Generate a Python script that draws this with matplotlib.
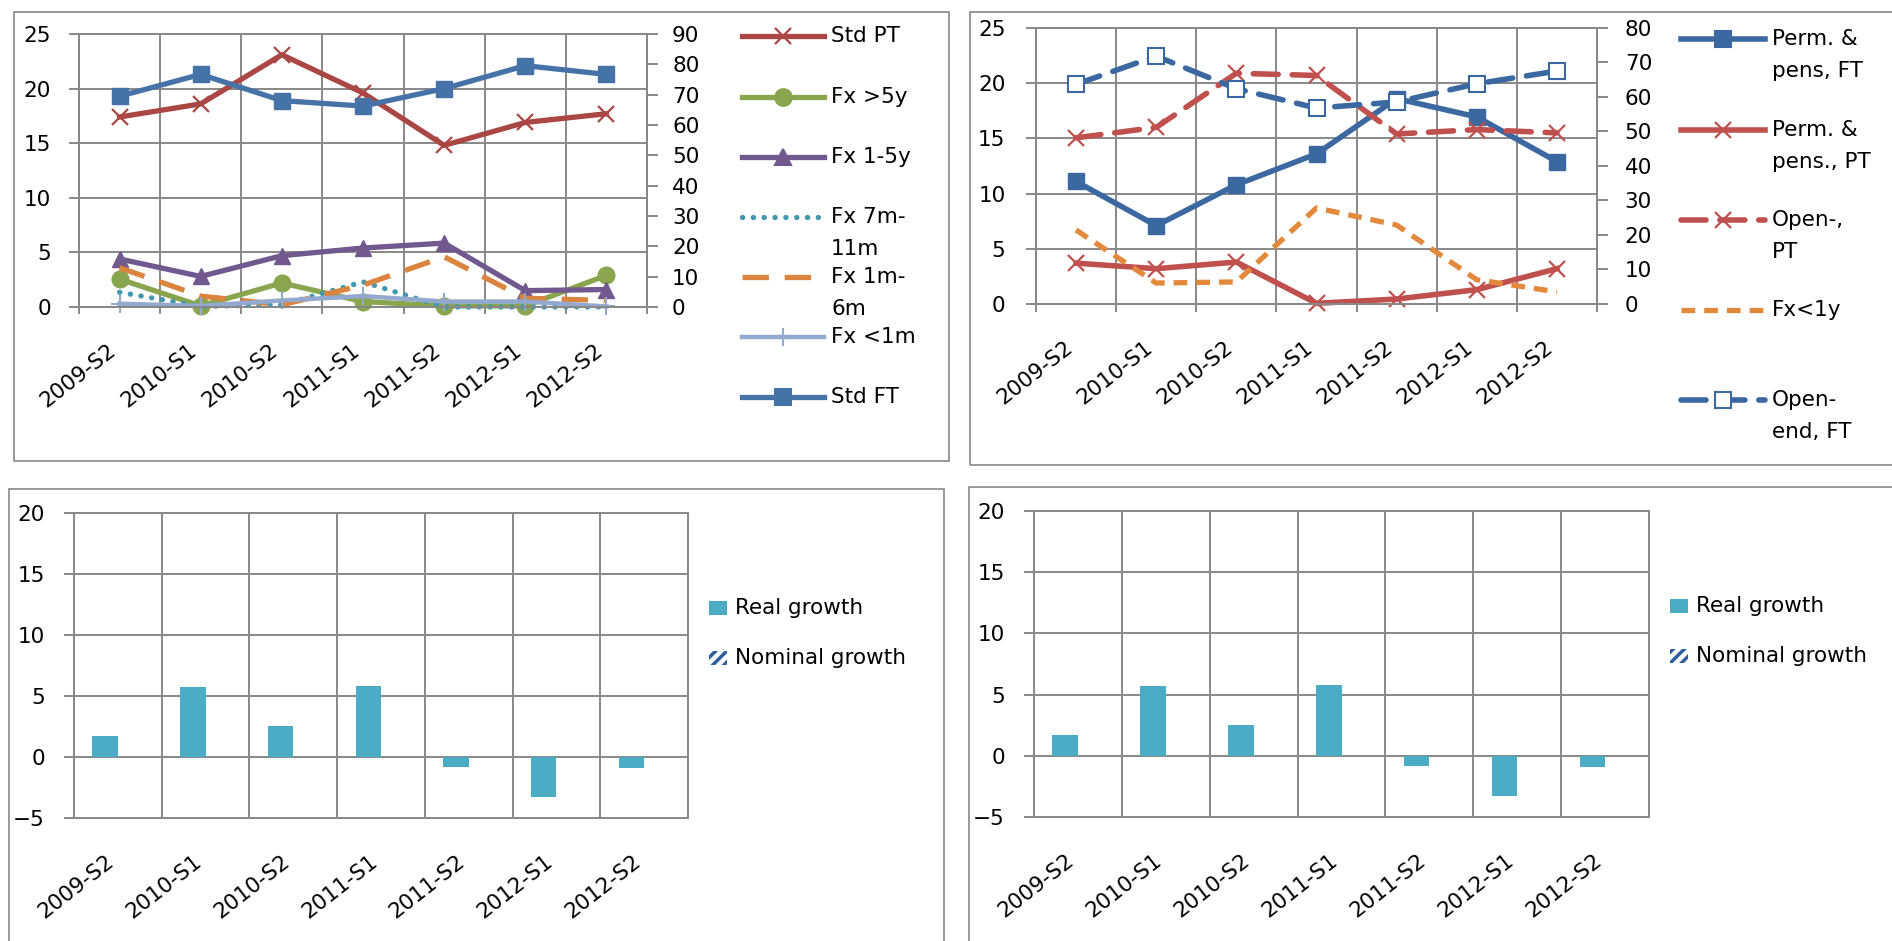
import numpy as np
import matplotlib
matplotlib.use("Agg")
import matplotlib.pyplot as plt
from matplotlib.lines import Line2D
from matplotlib.patches import Rectangle

# ---- data ----
periods = ['2009-S2', '2010-S1', '2010-S2', '2011-S1', '2011-S2', '2012-S1', '2012-S2']

# top left panel
std_pt = [17.4, 18.6, 23.1, 19.6, 14.8, 16.9, 17.7]
fx_5y = [2.55, 0.1, 2.2, 0.5, 0.1, 0.1, 2.9]
fx_1_5y = [4.4, 2.8, 4.7, 5.4, 5.85, 1.5, 1.6]
fx_7_11m = [1.35, 0.05, 0.2, 2.3, 0.0, 0.0, 0.0]
fx_1_6m = [3.6, 1.0, 0.2, 2.0, 4.6, 0.8, 0.6]
fx_1m = [0.3, 0.1, 0.6, 1.0, 0.5, 0.5, 0.05]
std_ft = [19.3, 21.3, 18.9, 18.4, 20.0, 22.1, 21.3]

# top right panel
perm_ft = [11.1, 7.1, 10.8, 13.6, 18.6, 16.95, 12.9]
perm_pt = [3.7, 3.2, 3.8, 0.06, 0.45, 1.3, 3.2]
open_pt = [15.05, 16.0, 20.9, 20.7, 15.4, 15.8, 15.5]
fx_1y = [6.7, 1.9, 2.0, 8.7, 7.15, 2.2, 1.1]
open_ft = [19.9, 22.45, 19.5, 17.75, 18.3, 19.95, 21.1]

# bottom panels
real_growth = [1.72, 5.7, 2.55, 5.8, -0.85, -3.3, -0.93]

W, H = 1892, 941
grid_c = '#888888'
FS = 15.5

plt.rcParams['hatch.linewidth'] = 2.5

fig = plt.figure(figsize=(W / 100, H / 100), dpi=100)


def box(x0, y0, x1, y1):
    # pixel box (from top-left) -> figure fraction rect
    return [x0 / W, 1 - y1 / H, (x1 - x0) / W, (y1 - y0) / H]


def fx(x):
    return x / W


def fy(y):
    return 1 - y / H


# panel frames
for x0, y0, x1, y1 in [(14, 12, 949, 461), (970, 12, 1900, 465),
                       (9, 489, 944, 950), (969, 487, 1900, 950)]:
    fig.add_artist(Rectangle((fx(x0), fy(y1)), (x1 - x0) / W, (y1 - y0) / H,
                             transform=fig.transFigure, fill=False,
                             edgecolor=grid_c, lw=1.2))


def category_axes(ax, lo, hi, step, xtick_len, lpad):
    n = len(periods)
    ax.set_xlim(-0.5, n - 0.5)
    ax.set_ylim(lo, hi)
    ax.set_yticks(np.arange(lo, hi + 0.1, step))
    ax.set_xticks(np.arange(n + 1) - 0.5)
    ax.set_xticklabels([])
    ax.set_xticks(np.arange(n), minor=True)
    ax.set_xticklabels(periods, minor=True, rotation=38, ha='right', va='top',
                       fontsize=FS)
    ax.tick_params(axis='x', which='minor', length=0, pad=24)
    ax.tick_params(axis='x', which='major', length=xtick_len, width=1.4,
                   color=grid_c, direction='out')
    ax.tick_params(axis='y', length=7, width=1.4, color=grid_c, pad=lpad,
                   labelsize=FS)
    ax.grid(True, which='major', color=grid_c, lw=1.4)
    ax.set_axisbelow(True)
    for s in ax.spines.values():
        s.set_color(grid_c)
        s.set_linewidth(1.4)


def right_axis(ax, top, pad):
    ax2 = ax.twinx()
    ax2.set_ylim(0, top)
    ax2.set_yticks(np.arange(0, top + 1, 10))
    ax2.tick_params(axis='y', length=8, width=1.4, color=grid_c, pad=pad,
                    labelsize=FS)
    for s in ax2.spines.values():
        s.set_color(grid_c)
        s.set_linewidth(1.4)
    return ax2


def legend_line(x0, x1, y, **kw):
    marker = kw.pop('marker', None)
    ms = kw.pop('ms', 10)
    mfc = kw.pop('mfc', kw.get('color'))
    mew = kw.pop('mew', 1.5)
    fig.add_artist(Line2D([fx(x0), fx(x1)], [fy(y), fy(y)],
                          transform=fig.transFigure, **kw))
    if marker:
        fig.add_artist(Line2D([fx((x0 + x1) / 2)], [fy(y)],
                              transform=fig.transFigure, marker=marker, ms=ms,
                              color=kw.get('color'), mfc=mfc, mew=mew, lw=0))


def legend_text(x, y, lines, step=32):
    for i, t in enumerate(lines):
        fig.text(fx(x), fy(y + i * step), t, fontsize=FS, va='center', ha='left')


x = np.arange(len(periods))

# ---- top left ----
ax1 = fig.add_axes(box(79, 34, 647, 307))
category_axes(ax1, 0, 25, 5, 5, 13)
right_axis(ax1, 90, 10)

tl_series = [
    (std_pt, dict(color='#AA4643', lw=3.8, marker='x', ms=11, mew=1.6), ['Std PT']),
    (fx_5y, dict(color='#89A54E', lw=3.8, marker='o', ms=12), ['Fx >5y']),
    (fx_1_5y, dict(color='#71588F', lw=3.8, marker='^', ms=12), ['Fx 1-5y']),
    (fx_7_11m, dict(color='#4198AF', lw=3.8, ls=(0, (0.05, 2.0)),
                    dash_capstyle='round'), ['Fx 7m-', '11m']),
    (fx_1_6m, dict(color='#DB843D', lw=3.8, ls=(0, (5, 3))), ['Fx 1m-', '6m']),
    (fx_1m, dict(color='#93A9CF', lw=3.2, marker='+', ms=13, mew=1.5), ['Fx <1m']),
    (std_ft, dict(color='#4572A7', lw=3.8, marker='s', ms=11), ['Std FT']),
]
tl_y = [36, 97, 157, 217, 277, 337, 397]
for (vals, st, lab), ly in zip(tl_series, tl_y):
    ax1.plot(x, vals, clip_on=False, **st)
    legend_line(742, 824, ly, **dict(st))
    legend_text(831, ly, lab)

# ---- top right ----
ax2 = fig.add_axes(box(1036, 28, 1597, 304))
category_axes(ax2, 0, 25, 5, 6, 15)
right_axis(ax2, 80, 12)

tr_series = [
    (perm_ft, dict(color='#3B68A0', lw=4, marker='s', ms=12),
     ['Perm. &', 'pens, FT']),
    (perm_pt, dict(color='#C0504D', lw=4, marker='x', ms=12, mew=1.6),
     ['Perm. &', 'pens., PT']),
    (open_pt, dict(color='#C0504D', lw=4, ls=(0, (4.5, 2.5)),
                   dash_capstyle='round', marker='x', ms=12, mew=1.6),
     ['Open-,', 'PT']),
    (fx_1y, dict(color='#E3893C', lw=3.8, ls=(0, (2.6, 1.7))), ['Fx<1y']),
    (open_ft, dict(color='#3B68A0', lw=4, ls=(0, (4.5, 2.5)),
                   dash_capstyle='round', marker='s', ms=11, mfc='white',
                   mew=1.5), ['Open-', 'end, FT']),
]
tr_y = [39, 130, 220, 310, 400]
for (vals, st, lab), ly in zip(tr_series, tr_y):
    ax2.plot(x, vals, clip_on=False, **st)
    legend_line(1681, 1765, ly, **dict(st))
    legend_text(1772, ly, lab)

# ---- bottom panels ----
for (l, t, r, b), (lx, ly) in [((74, 513, 688, 818), (709, 608)),
                               ((1034, 511, 1649, 817), (1670, 606))]:
    ax = fig.add_axes(box(l, t, r, b))
    category_axes(ax, -5, 20, 5, 0, 14)
    ax.bar(x - 0.145, real_growth, width=0.29, color='#4BACC6',
           edgecolor='none', zorder=3)
    fig.add_artist(Rectangle((fx(lx), fy(ly + 7)), 18 / W, 14 / H,
                             transform=fig.transFigure, facecolor='#4BACC6',
                             edgecolor='none'))
    fig.add_artist(Rectangle((fx(lx), fy(ly + 50 + 7)), 18 / W, 14 / H,
                             transform=fig.transFigure, facecolor='white',
                             edgecolor='#2E5E9E', hatch='///', lw=0))
    fig.text(fx(lx + 26), fy(ly), 'Real growth', fontsize=FS, va='center')
    fig.text(fx(lx + 26), fy(ly + 50), 'Nominal growth', fontsize=FS,
             va='center')

fig.savefig('out.png', dpi=100)
